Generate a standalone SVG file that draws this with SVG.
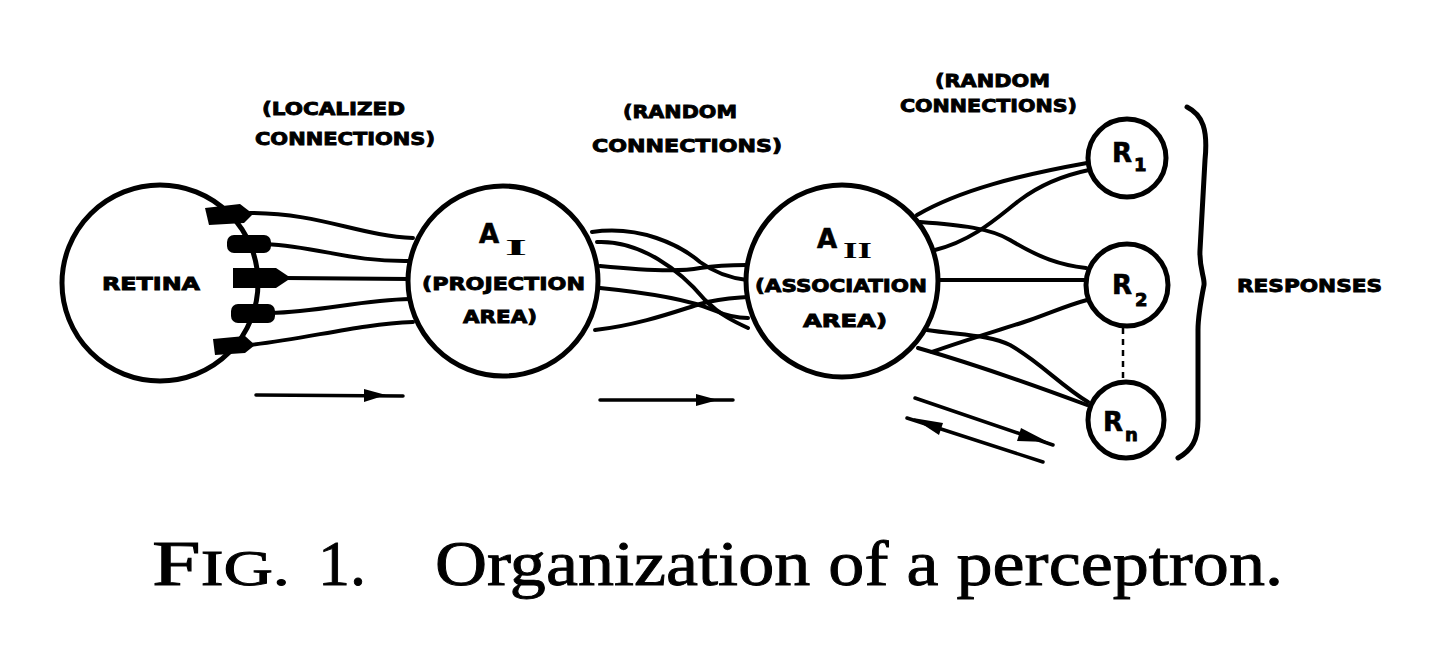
<svg xmlns="http://www.w3.org/2000/svg" width="1456" height="660" viewBox="0 0 1456 660">
<style>
.node{fill:#fff;stroke:#000;stroke-width:5}
.con{fill:none;stroke:#000;stroke-width:4;stroke-linecap:round}
.arr{fill:none;stroke:#000;stroke-width:3.5;stroke-linecap:round}
.lbl{font-family:"DejaVu Sans","Liberation Sans",Arial,sans-serif;font-weight:bold;font-size:18px;fill:#000;stroke:#000;stroke-width:0.9}
.big{font-family:"DejaVu Sans","Liberation Sans",Arial,sans-serif;font-weight:bold;font-size:26px;fill:#000;stroke:#000;stroke-width:0.6}
.rom{font-family:"Liberation Serif","Times New Roman",serif;font-weight:bold;font-size:24px;fill:#000}
.cap{font-family:"Liberation Serif","Times New Roman",serif;font-size:64px;fill:#000;stroke:#000;stroke-width:0.9}
</style>
<rect width="1456" height="660" fill="#fff"/>

<g id="connectors">
  <!-- retina to A-I -->
  <path class="con" d="M250,213 C320,213 360,236 413,238"/>
  <path class="con" d="M266,244 C320,247 350,262 410,261"/>
  <path class="con" d="M285,278 L410,279"/>
  <path class="con" d="M270,313 C320,312 360,300 410,299"/>
  <path class="con" d="M250,345 C310,338 360,324 413,322"/>
  <!-- A-I to A-II -->
  <path class="con" d="M592,232 C640,225 680,245 700,262 C715,273 730,278 747,280"/>
  <path class="con" d="M597,242 C640,240 680,270 705,300 C720,315 735,322 748,328"/>
  <path class="con" d="M600,266 C640,270 680,272 700,268 C720,265 735,265 746,265"/>
  <path class="con" d="M600,288 C650,293 690,300 713,310 C725,315 738,318 748,318"/>
  <path class="con" d="M595,330 C640,325 680,310 700,304 C720,298 735,298 747,297"/>
  <!-- A-II to R -->
  <path class="con" d="M917,215 C960,190 1020,175 1087,163"/>
  <path class="con" d="M935,250 C975,240 1000,215 1020,200 C1040,185 1065,175 1089,170"/>
  <path class="con" d="M920,222 C960,225 990,228 1010,240 C1040,258 1060,265 1086,268"/>
  <path class="con" d="M939,280 L1085,280"/>
  <path class="con" d="M932,352 C965,340 1000,330 1030,320 C1050,313 1068,305 1087,300"/>
  <path class="con" d="M927,330 C960,335 990,335 1010,345 C1040,362 1060,385 1088,402"/>
  <path class="con" d="M918,348 C960,360 1020,380 1087,405"/>
  <!-- R2 to Rn dashed -->
  <path d="M1123,328 L1123,381" fill="none" stroke="#000" stroke-width="2.5" stroke-dasharray="6,5"/>
  <!-- direction arrows -->
  <path class="arr" d="M256,395 L403,396"/>
  <path d="M364,389 L386,395 L364,402 Z" fill="#000"/>
  <path class="arr" d="M600,400 L733,400"/>
  <path d="M696,394 L718,400 L696,406 Z" fill="#000"/>
  <path class="arr" d="M915,398 L1053,445"/>
  <path d="M1021,428 L1048,442 L1017,441 Z" fill="#000"/>
  <path class="arr" d="M907,418 L1043,462"/>
  <path d="M943,423 L913,418 L939,435 Z" fill="#000"/>
</g>

<g id="retina">
  <circle class="node" cx="160" cy="283" r="98"/>
  <path d="M205,208 L240,204 L253,214 L244,223 L209,225 Z" fill="#000"/>
  <rect x="227" y="235" width="44" height="18" rx="7" fill="#000"/>
  <path d="M233,268 L276,268 L291,278 L276,288 L233,288 Z" fill="#000"/>
  <rect x="231" y="304" width="44" height="19" rx="7" fill="#000"/>
  <path d="M213,339 L245,336 L255,345 L245,353 L215,355 Z" fill="#000"/>
  <text class="lbl" x="102" y="290" textLength="98" lengthAdjust="spacingAndGlyphs">RETINA</text>
</g>

<g id="a1">
  <circle class="node" cx="503" cy="281" r="95"/>
  <text class="big" x="479" y="243">A</text>
  <text class="rom" x="505" y="255" textLength="22" lengthAdjust="spacingAndGlyphs">I</text>
  <text class="lbl" x="422" y="290" textLength="163" lengthAdjust="spacingAndGlyphs">(PROJECTION</text>
  <text class="lbl" x="463" y="323" textLength="74" lengthAdjust="spacingAndGlyphs">AREA)</text>
</g>

<g id="a2">
  <circle class="node" cx="842" cy="281" r="96"/>
  <text class="big" x="817" y="248">A</text>
  <text class="rom" x="843" y="258" textLength="29" lengthAdjust="spacingAndGlyphs">II</text>
  <text class="lbl" x="755" y="292" textLength="172" lengthAdjust="spacingAndGlyphs">(ASSOCIATION</text>
  <text class="lbl" x="803" y="327" textLength="84" lengthAdjust="spacingAndGlyphs">AREA)</text>
</g>

<g id="r1">
  <circle class="node" cx="1127" cy="158" r="39"/>
  <text class="big" x="1112" y="162" font-size="22">R</text>
  <text class="lbl" x="1134" y="171" font-size="15">1</text>
</g>
<g id="r2">
  <circle class="node" cx="1127" cy="285" r="41"/>
  <text class="big" x="1112" y="294" font-size="22">R</text>
  <text class="lbl" x="1135" y="306" font-size="15">2</text>
</g>
<g id="rn">
  <circle class="node" cx="1126" cy="420" r="38"/>
  <text class="big" x="1103" y="431" font-size="22">R</text>
  <text class="lbl" x="1125" y="441" font-size="15">n</text>
</g>

<g id="responses">
  <path d="M1187,107 C1203,115 1208,130 1205,160 L1200,250 C1199,268 1205,278 1204,285 C1201,300 1198,315 1198,330 L1198,420 C1198,440 1192,450 1178,458" fill="none" stroke="#000" stroke-width="5" stroke-linecap="round"/>
  <text class="lbl" x="1237" y="292" font-size="17" textLength="145" lengthAdjust="spacingAndGlyphs">RESPONSES</text>
</g>

<g id="labels">
  <text class="lbl" x="262" y="115" textLength="143" lengthAdjust="spacingAndGlyphs">(LOCALIZED</text>
  <text class="lbl" x="255" y="145" textLength="180" lengthAdjust="spacingAndGlyphs">CONNECTIONS)</text>
  <text class="lbl" x="623" y="118" textLength="114" lengthAdjust="spacingAndGlyphs">(RANDOM</text>
  <text class="lbl" x="592" y="152" textLength="190" lengthAdjust="spacingAndGlyphs">CONNECTIONS)</text>
  <text class="lbl" x="935" y="87" textLength="115" lengthAdjust="spacingAndGlyphs">(RANDOM</text>
  <text class="lbl" x="900" y="112" textLength="177" lengthAdjust="spacingAndGlyphs">CONNECTIONS)</text>
</g>

<g id="caption">
  <text class="cap" x="152" y="585" textLength="138" lengthAdjust="spacingAndGlyphs">F<tspan font-size="50">IG.</tspan></text>
  <text class="cap" x="318" y="585">1.</text>
  <text class="cap" x="435" y="585" textLength="848" lengthAdjust="spacingAndGlyphs">Organization of a perceptron.</text>
</g>
</svg>
